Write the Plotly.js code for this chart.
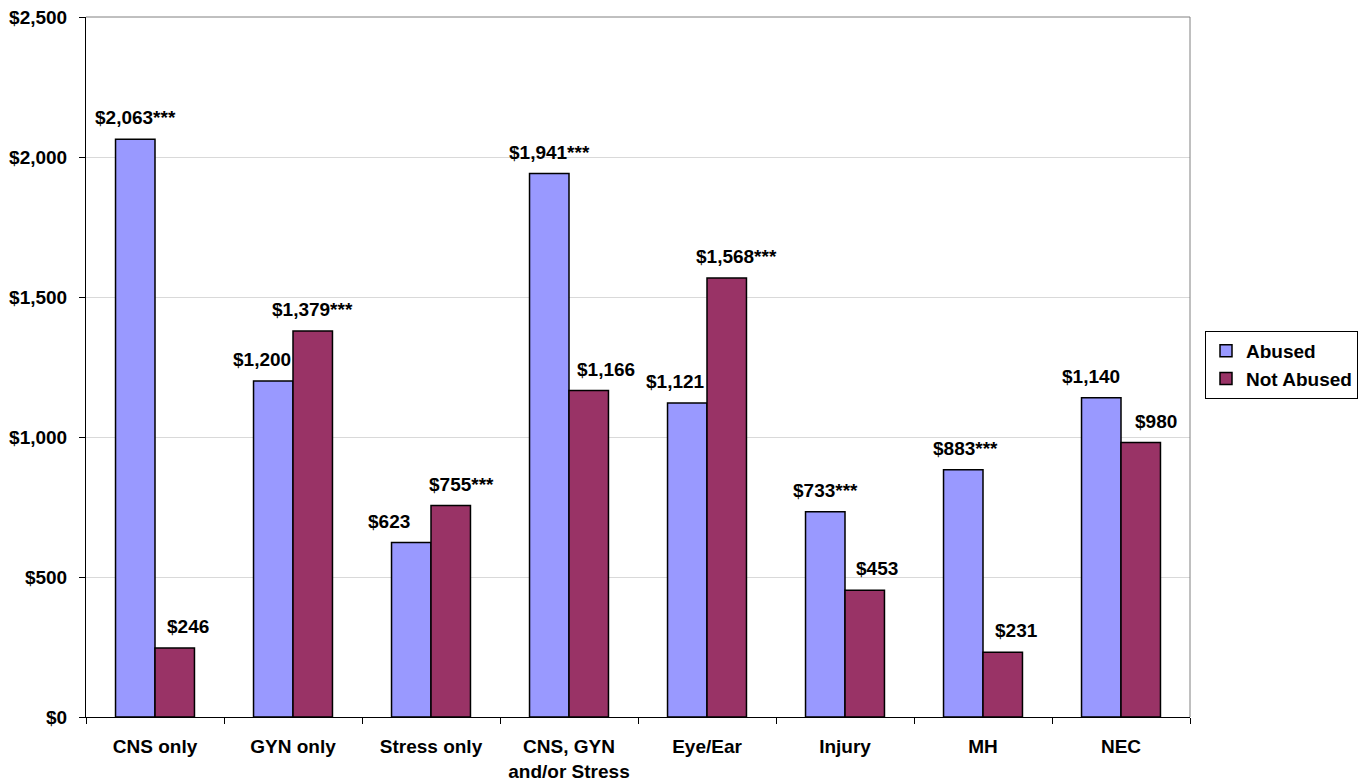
<!DOCTYPE html>
<html>
<head>
<meta charset="utf-8">
<script src="https://cdn.plot.ly/plotly-3.0.1.min.js"></script>
<style>html,body{margin:0;padding:0;background:#fff;}#chart{width:1358px;height:783px;}</style>
</head>
<body>
<div id="chart"></div>
<script>
const categories = ["CNS only", "GYN only", "Stress only", "CNS, GYN<br>and/or Stress", "Eye/Ear", "Injury", "MH", "NEC"];
const seriesNames = ["Abused", "Not Abused"];
const abused = [2063, 1200, 623, 1941, 1121, 733, 883, 1140];
const notAbused = [246, 1379, 755, 1166, 1568, 453, 231, 980];
const abusedSig = ["***", "", "", "***", "", "***", "***", ""];
const notAbusedSig = ["", "***", "***", "", "***", "", "", ""];
const yTickVals = [0, 500, 1000, 1500, 2000, 2500];

// label nudges (style), pixels
const abusedLabelShift = [0, -11, -22, 0, -12, 0, 2, -10];
const notAbusedLabelShift = [13, 0, 11, 17, 10, 12, 14, 15];

const BARGAP = 0.428;
const half = (1 - BARGAP) / 4;
const FONT = "Liberation Sans, Arial, sans-serif";

function fmt(v) { return "$" + v.toLocaleString("en-US"); }

const annotations = [];
categories.forEach((c, i) => {
  annotations.push({
    x: i - half, y: abused[i], xref: "x", yref: "y",
    text: fmt(abused[i]) + abusedSig[i], showarrow: false,
    yanchor: "bottom", xanchor: "center", yshift: 9, xshift: abusedLabelShift[i],
    font: {family: FONT, size: 19, color: "#000", weight: "bold"}
  });
  annotations.push({
    x: i + half, y: notAbused[i], xref: "x", yref: "y",
    text: fmt(notAbused[i]) + notAbusedSig[i], showarrow: false,
    yanchor: "bottom", xanchor: "center", yshift: 9, xshift: notAbusedLabelShift[i],
    font: {family: FONT, size: 19, color: "#000", weight: "bold"}
  });
});

const traces = [
  {type: "bar", name: seriesNames[0], x: categories, y: abused,
   marker: {color: "#9999FF", line: {color: "#000", width: 1.5}}, hoverinfo: "none"},
  {type: "bar", name: seriesNames[1], x: categories, y: notAbused,
   marker: {color: "#993366", line: {color: "#000", width: 1.5}}, hoverinfo: "none"}
];

const layout = {
  width: 1358, height: 783,
  margin: {l: 86, r: 168, t: 17, b: 66, autoexpand: false},
  paper_bgcolor: "#fff", plot_bgcolor: "#fff",
  font: {family: FONT, size: 19, color: "#000", weight: "bold"},
  barmode: "group", bargap: BARGAP, bargroupgap: 0,
  showlegend: true,
  legend: {xref: "container", yref: "container", x: 1205 / 1358, xanchor: "left",
           y: 1 - 365 / 783, yanchor: "middle",
           bordercolor: "#000", borderwidth: 1, bgcolor: "#fff",
           font: {family: FONT, size: 19, color: "#000", weight: "bold"},
           tracegroupgap: 0},
  xaxis: {type: "category", showline: true, linecolor: "#000", linewidth: 1,
          ticks: "outside", tickson: "boundaries", ticklen: 6, tickcolor: "#000",
          showgrid: false, ticklabelstandoff: 12, automargin: false,
          tickfont: {family: FONT, size: 19, color: "#000", weight: "bold"}},
  yaxis: {range: [0, 2500], tickvals: yTickVals, ticktext: yTickVals.map(fmt),
          showline: true, linecolor: "#000", linewidth: 1,
          ticks: "outside", ticklen: 6, tickcolor: "#000",
          showgrid: true, gridcolor: "#d9d9d9", gridwidth: 1, zeroline: false,
          ticklabelstandoff: 8, automargin: false,
          tickfont: {family: FONT, size: 19, color: "#000", weight: "bold"}},
  annotations: annotations,
  shapes: [
    {type: "line", xref: "paper", yref: "paper", x0: 0, x1: 1, y0: 1, y1: 1,
     line: {color: "#808080", width: 1}, layer: "above"},
    {type: "line", xref: "paper", yref: "paper", x0: 1, x1: 1, y0: 0, y1: 1,
     line: {color: "#808080", width: 1}, layer: "above"}
  ]
};

Plotly.newPlot("chart", traces, layout, {displayModeBar: false, staticPlot: true});
</script>
</body>
</html>
